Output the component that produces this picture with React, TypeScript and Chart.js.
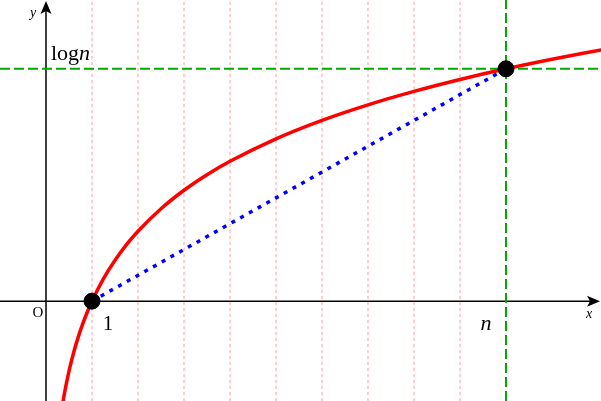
import React, { useEffect, useRef } from "react";
import { Chart, registerables } from "chart.js";

Chart.register(...registerables);

const curveX = [0.34, 0.4, 0.5, 0.6, 0.7, 0.8, 0.9, 1, 1.25, 1.5, 1.75, 2, 2.5, 3, 3.5, 4, 5, 6, 7, 8, 9, 10, 11, 12.1];
const curveY = [-1.079, -0.916, -0.693, -0.511, -0.357, -0.223, -0.105, 0, 0.223, 0.405, 0.56, 0.693, 0.916, 1.099, 1.253, 1.386, 1.609, 1.792, 1.946, 2.079, 2.197, 2.303, 2.398, 2.493];
// Pink dotted vertical guide lines
const gridX = [1, 2, 3, 4, 5, 6, 7, 8, 9];
// Marked points (1, 0) and (n, log n)
const markX = [1, 10];
const markY = [0, 2.303];
const nValue = 10;
const logN = 2.303;

const X_MIN = -1;
const X_MAX = 12.065;
const Y_MIN = -0.99;
const Y_MAX = 2.985;

const SERIF = '"Liberation Serif", "Times New Roman", serif';

export default function App() {
  const ref = useRef<HTMLCanvasElement | null>(null);

  useEffect(() => {
    const canvas = ref.current;
    if (!canvas) return;

    const datasets: any[] = [];
    gridX.forEach((gx) => {
      datasets.push({
        type: "line",
        data: [
          { x: gx, y: Y_MIN },
          { x: gx, y: Y_MAX },
        ],
        borderColor: "#ffcfcf",
        borderWidth: 2,
        borderDash: [3, 3],
        pointRadius: 0,
        order: 10,
      });
    });
    datasets.push({
      type: "line",
      data: [
        { x: nValue, y: Y_MIN },
        { x: nValue, y: Y_MAX },
      ],
      borderColor: "#00aa00",
      borderWidth: 2,
      borderDash: [10, 4],
      pointRadius: 0,
      order: 9,
    });
    datasets.push({
      type: "line",
      data: [
        { x: X_MIN, y: logN },
        { x: X_MAX, y: logN },
      ],
      borderColor: "#00aa00",
      borderWidth: 2,
      borderDash: [10, 4],
      pointRadius: 0,
      order: 9,
    });
    datasets.push({
      type: "line",
      data: curveX.map((x, i) => ({ x, y: curveY[i] })),
      borderColor: "#ff0000",
      borderWidth: 3.5,
      pointRadius: 0,
      cubicInterpolationMode: "monotone",
      order: 5,
    });
    datasets.push({
      type: "line",
      data: markX.map((x, i) => ({ x, y: markY[i] })),
      borderColor: "#0000ff",
      borderWidth: 3.5,
      borderDash: [4, 6],
      pointRadius: 0,
      order: 4,
    });
    datasets.push({
      type: "scatter",
      data: markX.map((x, i) => ({ x, y: markY[i] })),
      backgroundColor: "#000000",
      borderColor: "#000000",
      pointRadius: 8,
      pointHoverRadius: 8,
      order: 1,
    });

    const decor = {
      id: "decor",
      beforeDatasetsDraw(chart: any) {
        const ctx = chart.ctx;
        const xs = chart.scales.x;
        const ys = chart.scales.y;
        const ox = xs.getPixelForValue(0);
        const oy = ys.getPixelForValue(0);
        const right = chart.width - 1;
        ctx.save();
        ctx.strokeStyle = "#000";
        ctx.fillStyle = "#000";
        ctx.lineWidth = 1.5;
        ctx.beginPath();
        ctx.moveTo(0, oy);
        ctx.lineTo(right - 4, oy);
        ctx.moveTo(ox, chart.height);
        ctx.lineTo(ox, 6);
        ctx.stroke();
        // x arrow
        ctx.beginPath();
        ctx.moveTo(right, oy);
        ctx.lineTo(right - 13, oy - 5.5);
        ctx.lineTo(right - 10, oy);
        ctx.lineTo(right - 13, oy + 5.5);
        ctx.closePath();
        ctx.fill();
        // y arrow
        ctx.beginPath();
        ctx.moveTo(ox, 1);
        ctx.lineTo(ox - 5.5, 14);
        ctx.lineTo(ox, 11);
        ctx.lineTo(ox + 5.5, 14);
        ctx.closePath();
        ctx.fill();
        ctx.restore();
      },
      afterDatasetsDraw(chart: any) {
        const ctx = chart.ctx;
        const xs = chart.scales.x;
        const ys = chart.scales.y;
        const ox = xs.getPixelForValue(0);
        const oy = ys.getPixelForValue(0);
        const p1 = xs.getPixelForValue(1);
        const pn = xs.getPixelForValue(nValue);
        const pl = ys.getPixelForValue(logN);
        ctx.save();
        ctx.fillStyle = "#000";
        ctx.textAlign = "center";
        ctx.textBaseline = "alphabetic";
        ctx.font = `italic 14px ${SERIF}`;
        ctx.fillText("y", ox - 13, 17);
        ctx.fillText("x", chart.width - 12, oy + 17);
        ctx.font = `15px ${SERIF}`;
        ctx.fillText("O", ox - 8, oy + 16);
        ctx.font = `21px ${SERIF}`;
        ctx.fillText("1", p1 + 16, oy + 29);
        ctx.font = `italic 22px ${SERIF}`;
        ctx.fillText("n", pn - 20, oy + 29);
        ctx.textAlign = "left";
        ctx.font = `22px ${SERIF}`;
        const lx = ox + 5;
        const ly = pl - 9;
        ctx.fillText("log", lx, ly);
        const w = ctx.measureText("log").width;
        ctx.font = `italic 22px ${SERIF}`;
        ctx.fillText("n", lx + w, ly);
        ctx.restore();
      },
    };

    const chart = new Chart(canvas, {
      type: "scatter",
      data: { datasets },
      options: {
        responsive: false,
        animation: false,
        devicePixelRatio: 1,
        layout: { padding: 0, autoPadding: false },
        plugins: { legend: { display: false }, tooltip: { enabled: false } },
        events: [],
        scales: {
          x: { type: "linear", min: X_MIN, max: X_MAX, display: false },
          y: { type: "linear", min: Y_MIN, max: Y_MAX, display: false },
        },
      },
      plugins: [decor],
    } as any);

    return () => chart.destroy();
  }, []);

  return (
    <div style={{ position: "fixed", left: 0, top: 0, width: 601, height: 401, background: "#fff" }}>
      <canvas ref={ref} width={601} height={401} style={{ display: "block", width: 601, height: 401 }} />
    </div>
  );
}
